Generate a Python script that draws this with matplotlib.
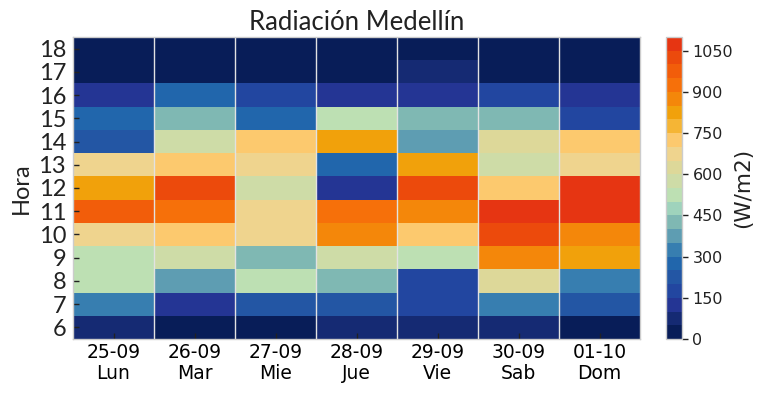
import numpy as np
import matplotlib
matplotlib.use("Agg")
import matplotlib.pyplot as plt
from matplotlib.colors import ListedColormap, BoundaryNorm

''' DATA '''
dias = ["25-09\nLun", "26-09\nMar", "27-09\nMie", "28-09\nJue", "29-09\nVie", "30-09\nSab", "01-10\nDom"]
horas = [6, 7, 8, 9, 10, 11, 12, 13, 14, 15, 16, 17, 18]

# radiacion media por hora (W/m2), una lista por dia, de 6h a 18h
lun = [75, 325, 525, 525, 675, 975, 825, 675, 225, 275, 125, 25, 25]
mar = [25, 125, 375, 575, 725, 925, 1025, 725, 575, 425, 275, 25, 25]
mie = [25, 225, 525, 425, 675, 675, 575, 675, 725, 275, 175, 25, 25]
jue = [75, 225, 425, 575, 875, 925, 125, 275, 825, 525, 125, 25, 25]
vie = [75, 175, 175, 525, 725, 875, 1025, 825, 375, 425, 125, 75, 25]
sab = [75, 325, 625, 875, 1025, 1075, 725, 575, 625, 425, 175, 25, 25]
dom = [25, 225, 325, 825, 875, 1075, 1075, 675, 725, 175, 125, 25, 25]

niveles = np.arange(0, 1150, 50)
colores = ["#081d58", "#152a73", "#243594", "#2246a0", "#2356a4", "#2166ac",
           "#377eb0", "#5e9db2", "#7fb8b3", "#9fd3bc", "#bde0b3", "#cedca7",
           "#ddd899", "#efd48e", "#fcc96e", "#f5b535", "#f1a10b", "#f4870a",
           "#f6700a", "#f25d0a", "#ec4a0c", "#e63512"]

radiacion = np.array([lun, mar, mie, jue, vie, sab, dom]).T

cmap = ListedColormap(colores)
norm = BoundaryNorm(niveles, cmap.N)

fig = plt.figure(figsize=(7.67, 3.95), dpi=100)
ax = fig.add_axes([73 / 767, 1 - 339 / 395, 567 / 767, 302 / 395])
cax = fig.add_axes([666 / 767, 1 - 339 / 395, 16 / 767, 302 / 395])

x_edges = np.arange(len(dias) + 1) - 0.5
y_edges = np.arange(horas[0], horas[-1] + 2) - 0.5
mesh = ax.pcolormesh(x_edges, y_edges, radiacion, cmap=cmap, norm=norm)

for xb in x_edges[1:-1]:
    ax.axvline(xb, color="#e2e2e2", lw=1.0)

ax.set_xlim(x_edges[0], x_edges[-1])
ax.set_ylim(y_edges[0], y_edges[-1])
ax.set_xticks(np.arange(len(dias)))
ax.set_xticklabels(dias, fontsize=13.5, fontfamily="DejaVu Sans", linespacing=1.15)
ax.set_yticks(horas)
ax.set_yticklabels([str(h) for h in horas], fontsize=17, fontfamily="Lato", color="#222222")
ax.tick_params(axis="both", direction="in", length=4, width=1, color="#222222", pad=3)
ax.tick_params(axis="y", pad=5)
for s in ax.spines.values():
    s.set_color("#cccccc")
    s.set_linewidth(1)

ax.set_ylabel("Hora", fontsize=17, fontfamily="Lato", color="#222222", labelpad=5)
ax.set_title("Radiación Medellín", fontsize=18.5, fontfamily="Lato", color="#222222", pad=5)

cb = fig.colorbar(mesh, cax=cax, ticks=np.arange(0, 1100, 150))
cb.outline.set_edgecolor("#cccccc")
cb.outline.set_linewidth(1)
cax.minorticks_off()
cax.tick_params(labelsize=11.5, length=4, width=1, color="#222222", labelcolor="#222222")
cb.set_label("(W/m2)", fontsize=15.5, color="#222222", labelpad=0)

fig.savefig("out.png", dpi=100)
